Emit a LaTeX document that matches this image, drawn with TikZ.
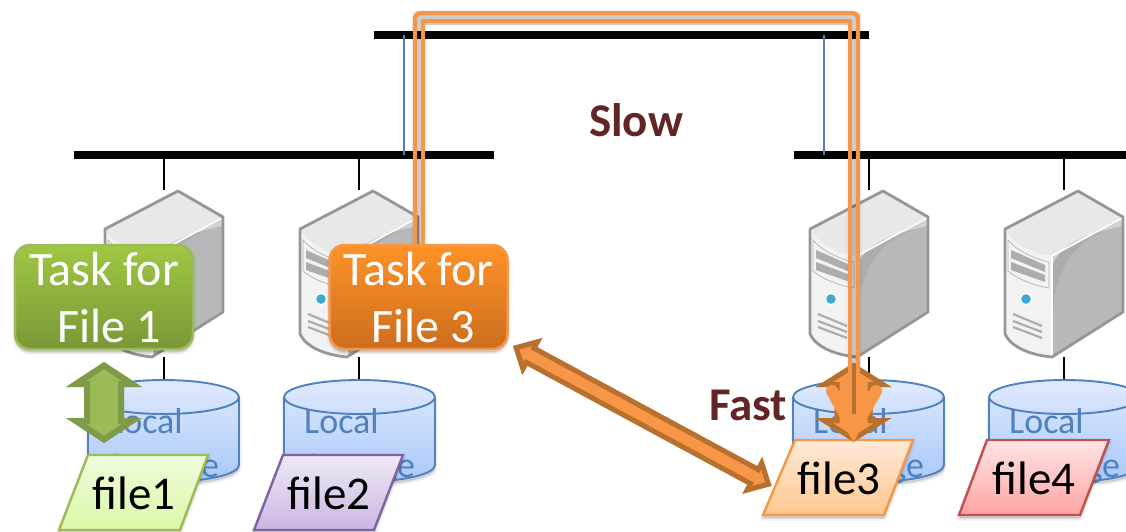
\documentclass[tikz,border=0pt]{standalone}
\usepackage{fontspec}
\setmainfont{Carlito}
\definecolor{cylline}{HTML}{4F81BD}
\definecolor{oline}{HTML}{F79646}
\definecolor{bline}{HTML}{B8702F}
\definecolor{gline}{HTML}{7F9A48}
\definecolor{gfill}{HTML}{9BBB59}
\definecolor{srvline}{HTML}{969696}
\definecolor{labelc}{HTML}{632523}
\definecolor{cyltop}{HTML}{DFEAFD}
\definecolor{cylbot}{HTML}{A9C8FA}
\definecolor{ledc}{HTML}{3FA9D6}
\tikzset{
 softsh/.style={
  preaction={draw=black,fill=black,opacity=.05,line width=5pt,transform canvas={yshift=-3pt}},
  preaction={draw=black,fill=black,opacity=.07,line width=2pt,transform canvas={yshift=-3pt}}},
 bus/.style={line width=8.5pt,black},
 thin link/.style={line width=1.4pt,black},
 blue link/.style={line width=1.4pt,cylline},
 taskbox/.style={rounded corners=15pt,minimum width=178pt,minimum height=104pt,inner sep=0pt,
   line width=2.5pt,text=white,align=center,font=\fontsize{48}{60}\selectfont,softsh},
 filebox/.style={line width=2.4pt,line join=miter,softsh},
 filetext/.style={font=\fontsize{47}{50}\selectfont,text=black,inner sep=0pt},
 labeltext/.style={font=\bfseries\fontsize{47}{50}\selectfont,text=labelc,inner sep=0pt},
 localtext/.style={font=\fontsize{36}{40}\selectfont,text=cylline,inner sep=0pt,anchor=base west},
 hollow/.style={line width=4.4pt,oline,line join=round,line cap=butt},
}
\newcommand{\serverat}[1]{%
 \begin{scope}[shift={(#1,191)}]
  \fill[white!95!black] (1,39) -- (73,1) -- (117,26) -- (117,120) -- (47,165) .. controls (25,163) and (8,155) .. (1,143) -- cycle;
  \fill[white!91!black] (1,39) -- (73,1) -- (117,26) -- (47,65) .. controls (30,63) and (10,55) .. (1,39) -- cycle;
  \fill[white!68!black] (47,65) -- (117,26) -- (117,120) -- (47,165) -- cycle;
  \fill[white!72!black] (47,165) -- (47,130) .. controls (50,75) and (70,46) .. (117,35) -- (117,120) -- cycle;
  \fill[white!82!black] (47,65) -- (117,27) -- (117,35) .. controls (70,46) and (55,55) .. (47,75) -- cycle;
  \draw[white,line width=1.6pt] (47,65) -- (117,27);
  \draw[white,line width=1.2pt] (47,65) -- (47,164);
  \draw[white!72!black,line width=.8pt] (3,49) .. controls (12,60) and (30,68) .. (44,71) -- (44,97) .. controls (28,94) and (12,88) .. (3,80) -- cycle;
  \fill[white!68!black] (6,59) -- (40,74) -- (40,81) -- (6,67) -- cycle;
  \fill[white!68!black] (6,71) -- (40,84) -- (40,91) -- (6,79) -- cycle;
  \fill[white] (21,108) circle[radius=6pt];
  \fill[ledc] (21,108) circle[radius=4.8pt];
  \draw[white!68!black,line width=2.2pt] (8,123) -- (37,135) (8,130) -- (37,141) (8,136) -- (37,147);
  \draw[srvline,line width=2.8pt,line join=round] (0,38) -- (73,0) -- (118,26) -- (118,121) -- (47,166) .. controls (25,164) and (6,156) .. (0,143) -- cycle;
 \end{scope}}
\newcommand{\cylat}[1]{%
 \begin{scope}[shift={(#1,0)}]
  \path[softsh,fill=cyltop] (0,397) -- (0,465) arc[start angle=180,end angle=360,x radius=75.5pt,y radius=17pt] -- (151,397) arc[start angle=0,end angle=180,x radius=75.5pt,y radius=17pt] -- cycle;
  \shade[top color=cyltop,bottom color=cylbot] (0,397) -- (0,465) arc[start angle=180,end angle=360,x radius=75.5pt,y radius=17pt] -- (151,397) arc[start angle=0,end angle=180,x radius=75.5pt,y radius=17pt] -- cycle;
  \draw[cylline,line width=1.9pt] (0,397) -- (0,465) arc[start angle=180,end angle=360,x radius=75.5pt,y radius=17pt] -- (151,397);
  \draw[cylline,line width=1.9pt] (75.5,397) ellipse[x radius=75.5pt,y radius=17pt];
  \node[localtext] at (20,433) {Local};
  \node[localtext] at (20,477) {Storage};
 \end{scope}}
% double arrow along +x from origin; #1 position, #2 angle, #3 length, #4 head length, #5 head half width, #6 shaft half width, #7 rim, #8 fill, #9 rim colour
\newcommand{\dblarrow}[9]{%
 \begin{scope}[shift={(#1)},rotate=#2]
  \def\arrowpoly{(0,0) -- (#4,#5) -- (#4,#6) -- ({#3-#4},#6) -- ({#3-#4},#5) -- (#3,0) -- ({#3-#4},-#5) -- ({#3-#4},-#6) -- (#4,-#6) -- (#4,-#5) -- cycle}
  \fill[#8] \arrowpoly;
  \begin{scope}
   \clip \arrowpoly;
   \draw[#9,line width=#7,miter limit=20] \arrowpoly;
  \end{scope}
 \end{scope}}
\begin{document}
\begin{tikzpicture}[x=1pt,y=-1pt]
\useasboundingbox (0,0) rectangle (1126,531);
% anchor coordinates
\coordinate (topA) at (374,35); \coordinate (topB) at (869,35);
\coordinate (leftA) at (74,155); \coordinate (leftB) at (494,155);
\coordinate (rightA) at (794,155); \coordinate (rightB) at (1126,155);
\coordinate (upL) at (404,35); \coordinate (dnL) at (404,155);
\coordinate (upR) at (824,35); \coordinate (dnR) at (824,155);
\foreach \n/\x in {1/164,2/359,3/869,4/1064}{
 \coordinate (bus\n) at (\x,159); \coordinate (srvT\n) at (\x,190);
 \coordinate (srvB\n) at (\x,357); \coordinate (cyl\n) at (\x,380);
}
% buses
\draw[bus] (topA) -- (topB);
\draw[bus] (leftA) -- (leftB);
\draw[bus] (rightA) -- (rightB);
\draw[blue link] (upL) -- (dnL);
\draw[blue link] (upR) -- (dnR);
\foreach \n in {1,2,3,4}{
 \draw[thin link] (bus\n) -- (srvT\n);
 \draw[thin link] (srvB\n) -- (cyl\n);
}
% servers and storage
\serverat{105}\serverat{300}\serverat{810}\serverat{1005}
\cylat{88}\cylat{284}\cylat{793}\cylat{989}
% files
\definecolor{fa}{HTML}{EFFBDC}\definecolor{fb}{HTML}{DCF8A8}
\definecolor{fc}{HTML}{F0E9F5}\definecolor{fd}{HTML}{CAB5E3}
\definecolor{fe}{HTML}{FFE9D8}\definecolor{ff}{HTML}{FFC78F}
\definecolor{fg}{HTML}{FFE4E4}\definecolor{fh}{HTML}{FFA4A4}
\definecolor{purp}{HTML}{8064A2}\definecolor{redl}{HTML}{C0504D}
\path[filebox,draw=gfill,top color=fa,bottom color=fb] (88,455) -- (208,455) -- (180,530) -- (59,530) -- cycle;
\node[filetext] (file1) at (134,493) {file1};
\path[filebox,draw=purp,top color=fc,bottom color=fd] (283,455) -- (403,455) -- (374,530) -- (254,530) -- cycle;
\node[filetext] (file2) at (329,493) {file2};
\path[filebox,draw=oline,top color=fe,bottom color=ff] (795,440) -- (913,440) -- (884,515) -- (763,515) -- cycle;
\node[filetext] (file3) at (839,478) {file3};
\path[filebox,draw=redl,top color=fg,bottom color=fh] (987,440) -- (1109,440) -- (1080,515) -- (959,515) -- cycle;
\node[filetext] (file4) at (1034,478) {file4};
% hollow route
\coordinate (routeOutS) at (415,246); \coordinate (routeOutTL) at (415,13); \coordinate (routeOutTR) at (858,13); \coordinate (routeOutE) at (858,414);
\coordinate (routeInS) at (423,246); \coordinate (routeInTL) at (423,21); \coordinate (routeInTR) at (850,21); \coordinate (routeInE) at (850,414);
\draw[black,opacity=.17,line width=11pt,transform canvas={yshift=-2pt}] (419,246) -- (419,17) -- (854,17) -- (854,400);
\draw[black,opacity=.03,line width=16pt,transform canvas={yshift=-2pt}] (419,246) -- (419,17) -- (854,17) -- (854,400);
\draw[hollow,rounded corners=5pt] (routeOutS) -- (routeOutTL) -- (routeOutTR) -- (routeOutE);
\draw[hollow] (routeInS) -- (routeInTL) -- (routeInTR) -- (routeInE);
% tasks
\definecolor{tga}{HTML}{9FC743}\definecolor{tgb}{HTML}{7A9837}
\definecolor{toa}{HTML}{FF9228}\definecolor{tob}{HTML}{CB6D1E}
\node[taskbox,draw=gfill,top color=tga,bottom color=tgb] (task1) at (104,297) {\raisebox{-3pt}{Task for}\\\hspace*{10pt}File 1};
\node[taskbox,draw=oline,top color=toa,bottom color=tob] (task3) at (418.5,297) {\raisebox{-3pt}{Task for}\\\hspace*{10pt}File 3};
% green double arrow
\dblarrow{104,362}{-90}{81}{25}{38}{20}{12pt}{gfill}{gline}
% long double arrow
\dblarrow{513,346}{-28.4}{294}{22}{21}{10.5}{10pt}{oline}{bline}
% fast access arrows
\dblarrow{853.5,363}{-90}{79}{24}{38}{19}{10pt}{oline}{bline}
\draw[line width=12pt,oline,line cap=round,line join=miter,miter limit=20] (832,391) -- (853.5,430) -- (876,391);
\fill[oline] (832,391) -- (853.5,430) -- (876,391) -- cycle;
\draw[bline,line width=4pt] (854,363) -- (854,414);
\draw[hollow] (850,350) -- (850,414);
\draw[hollow] (858,350) -- (858,414);
% labels
\node[labeltext] (slow) at (636,120) {Slow};
\node[labeltext] (fast) at (748,405) {Fast};
\end{tikzpicture}
\end{document}
